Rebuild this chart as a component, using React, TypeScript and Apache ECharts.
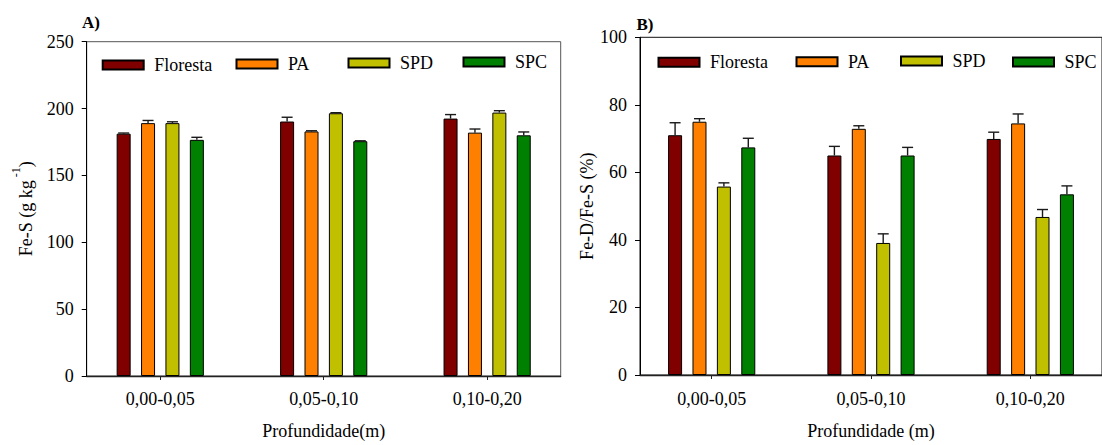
import React, { useEffect, useRef } from "react";
import * as echarts from "echarts";

// ---------- data ----------
const categories = ["0,00-0,05", "0,05-0,10", "0,10-0,20"];
const seriesNames = ["Floresta", "PA", "SPD", "SPC"];
const seriesColors = ["#800000", "#FF8000", "#C0C000", "#008000"];

// Panel A: Fe-S (g kg-1)
const feSFloresta = [181.2, 190.3, 192.5];
const feSFlorestaErr = [0.5, 3.2, 3.0];
const feSPA = [189.1, 182.9, 182.0];
const feSPAErr = [2.0, 0.5, 2.7];
const feSSPD = [189.1, 196.5, 197.0];
const feSSPDErr = [1.0, 0.4, 1.4];
const feSSPC = [176.6, 175.6, 180.0];
const feSSPCErr = [1.9, 0.3, 2.5];

// Panel B: Fe-D/Fe-S (%)
const ratioFloresta = [71.0, 65.0, 69.9];
const ratioFlorestaErr = [3.7, 2.7, 2.0];
const ratioPA = [75.0, 72.9, 74.5];
const ratioPAErr = [0.9, 0.9, 2.8];
const ratioSPD = [55.8, 39.1, 46.8];
const ratioSPDErr = [1.1, 2.7, 2.2];
const ratioSPC = [67.4, 65.0, 53.5];
const ratioSPCErr = [2.7, 2.4, 2.5];

const valuesA = [feSFloresta, feSPA, feSSPD, feSSPC];
const errorsA = [feSFlorestaErr, feSPAErr, feSSPDErr, feSSPCErr];
const valuesB = [ratioFloresta, ratioPA, ratioSPD, ratioSPC];
const errorsB = [ratioFlorestaErr, ratioPAErr, ratioSPDErr, ratioSPCErr];

// ---------- style ----------
const FONT = "'Liberation Serif', 'Times New Roman', serif";
const BAR_W = 14;
const BAR_GAP_PX = 10.4;
const PITCH = BAR_W + BAR_GAP_PX;

function buildOption() {
  const catIdx = categories.map((_, i) => i);

  const xAxisBase = (gridIndex: number, name: string, labelMargin: number, nameGap: number) => ({
    type: "value",
    gridIndex,
    min: -0.45,
    max: 2.45,
    name,
    nameLocation: "middle",
    nameGap,
    nameTextStyle: { fontFamily: FONT, fontSize: 18, color: "#000" },
    axisLine: { show: true, onZero: false, lineStyle: { color: "#222", width: 1.3 } },
    axisTick: { show: true, length: 4, customValues: catIdx, lineStyle: { color: "#222" } },
    axisLabel: {
      customValues: catIdx,
      formatter: (v: number) => categories[Math.round(v)] ?? "",
      fontFamily: FONT,
      fontSize: 18,
      color: "#000",
      margin: labelMargin,
    },
    splitLine: { show: false },
  });

  const yAxisBase = (gridIndex: number, max: number, interval: number, name: string, nameGap: number, rich: any) => ({
    type: "value",
    gridIndex,
    min: 0,
    max,
    interval,
    name,
    nameLocation: "middle",
    nameGap,
    nameTextStyle: { fontFamily: FONT, fontSize: 18, color: "#000", rich },
    axisLine: { show: true, onZero: false, lineStyle: { color: "#000", width: 1 } },
    axisTick: { show: true, length: 5, lineStyle: { color: "#000" } },
    axisLabel: { fontFamily: FONT, fontSize: 18, color: "#000", margin: 13 },
    splitLine: { show: false },
  });

  const series: any[] = [];
  const panels = [
    { values: valuesA, errors: errorsA },
    { values: valuesB, errors: errorsB },
  ];
  panels.forEach((p, pi) => {
    seriesNames.forEach((name, si) => {
      series.push({
        type: "bar",
        name,
        xAxisIndex: pi,
        yAxisIndex: pi,
        barWidth: BAR_W,
        barGap: `${(BAR_GAP_PX / BAR_W) * 100}%`,
        itemStyle: { color: seriesColors[si], borderColor: "#000", borderWidth: 1 },
        data: p.values[si].map((v, i) => [i, v]),
      });
    });
    seriesNames.forEach((name, si) => {
      const offset = (si - 1.5) * PITCH;
      series.push({
        type: "custom",
        name: name + "-err",
        xAxisIndex: pi,
        yAxisIndex: pi,
        silent: true,
        z: 5,
        data: p.values[si].map((v, i) => [i, v, p.errors[si][i]]),
        renderItem: (params: any, api: any) => {
          const x = api.value(0);
          const y = api.value(1);
          const e = api.value(2);
          const base = api.coord([x, y]);
          const top = api.coord([x, y + e]);
          const cx = base[0] + offset;
          const st = { stroke: "#1a1a1a", lineWidth: 1.4 };
          return {
            type: "group",
            children: [
              { type: "line", shape: { x1: cx, y1: base[1], x2: cx, y2: top[1] }, style: st },
              { type: "line", shape: { x1: cx - 5.5, y1: top[1], x2: cx + 5.5, y2: top[1] }, style: st },
            ],
          };
        },
      });
    });
  });

  const legendPos = [
    // panel A
    { name: "Floresta", left: 101.7, cy: 66 },
    { name: "PA", left: 235.5, cy: 65 },
    { name: "SPD", left: 347.5, cy: 64 },
    { name: "SPC", left: 462.5, cy: 63 },
    // panel B
    { name: "Floresta", left: 657.5, cy: 63.3 },
    { name: "PA", left: 795.5, cy: 62.7 },
    { name: "SPD", left: 900, cy: 62 },
    { name: "SPC", left: 1012, cy: 63 },
  ];

  const legends = legendPos.map((l) => ({
    data: [l.name],
    left: l.left,
    top: l.cy - 10,
    padding: 0,
    selectedMode: false,
    itemWidth: 41,
    itemHeight: 9,
    icon: "rect",
    textStyle: { fontFamily: FONT, fontSize: 18, color: "#000", padding: [0, 0, 0, 5.5] },
  }));

  return {
    animation: false,
    backgroundColor: "#fff",
    title: [
      { text: "A)", left: 82, top: 14, padding: 0, textStyle: { fontFamily: FONT, fontSize: 17, fontWeight: "bold", color: "#000" } },
      { text: "B)", left: 636.5, top: 16, padding: 0, textStyle: { fontFamily: FONT, fontSize: 17, fontWeight: "bold", color: "#000" } },
    ],
    legend: legends,
    grid: [
      { left: 86.7, top: 41.7, width: 474, height: 339.3, show: true, borderColor: "#555", borderWidth: 1, backgroundColor: "transparent" },
      { left: 640, top: 37.3, width: 474, height: 339.4, show: true, borderColor: "#111", borderWidth: 1, backgroundColor: "transparent" },
    ],
    xAxis: [
      xAxisBase(0, "Profundidade(m)", 14, 46),
      xAxisBase(1, "Profundidade (m)", 15, 47),
    ],
    yAxis: [
      yAxisBase(0, 250, 50, "{a|Fe-S (g kg}{b|-1}{a|)}", 52, {
        a: { fontFamily: FONT, fontSize: 18, color: "#000", verticalAlign: "bottom", padding: [7, 0, 0, 0] },
        b: { fontFamily: FONT, fontSize: 12, color: "#000", verticalAlign: "top", padding: [0, 0, 0, 3] },
      }),
      yAxisBase(1, 100, 20, "Fe-D/Fe-S (%)", 44, undefined),
    ],
    series,
  };
}

export default function App() {
  const ref = useRef<HTMLDivElement>(null);
  useEffect(() => {
    document.body.style.margin = "0";
    if (!ref.current) return;
    const chart = echarts.init(ref.current, null, { renderer: "svg" });
    chart.setOption(buildOption() as any);
    return () => chart.dispose();
  }, []);
  return (
    <div
      ref={ref}
      style={{ position: "absolute", left: 0, top: 0, width: 1102, height: 445, background: "#fff" }}
    />
  );
}
